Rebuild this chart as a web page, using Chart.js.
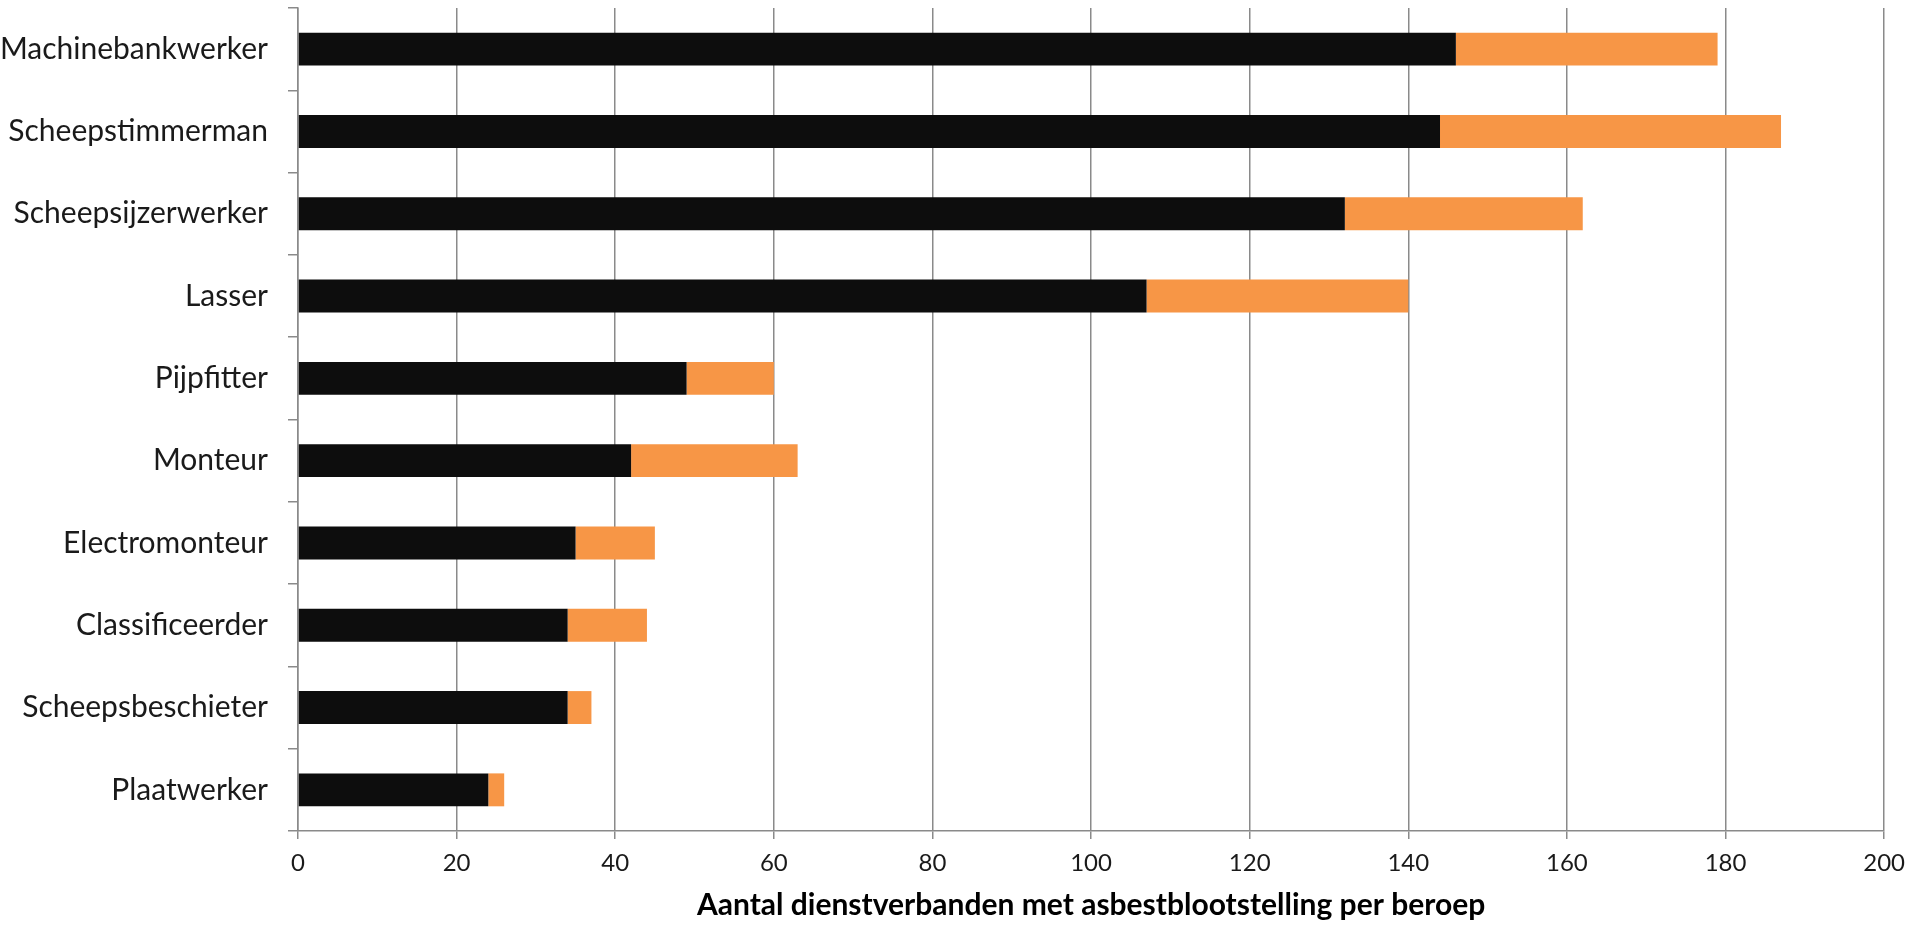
<!DOCTYPE html>
<html>
<head>
<meta charset="utf-8">
<script src="https://cdn.jsdelivr.net/npm/chart.js@4"></script>
<style>
  html, body { margin: 0; padding: 0; background: #fff; }
  #wrap { width: 1915px; height: 927px; }
</style>
</head>
<body>
<div id="wrap"><canvas id="asbestChart" width="1915" height="927"></canvas></div>
<script>
var beroepen = ['Machinebankwerker', 'Scheepstimmerman', 'Scheepsijzerwerker', 'Lasser', 'Pijpfitter',
    'Monteur', 'Electromonteur', 'Classificeerder', 'Scheepsbeschieter', 'Plaatwerker'];
var zwart = [146, 144, 132, 107, 49, 42, 35, 34, 34, 24];
var oranje = [33, 43, 30, 33, 11, 21, 10, 10, 3, 2];
var xMin = 0;
var xMax = 200;
var xStap = 20;
var asTitel = 'Aantal dienstverbanden met asbestblootstelling per beroep';

var labelFont = 'Lato, "Open Sans", sans-serif';
var gridKleur = '#8a8a8a';

var ctx = document.getElementById('asbestChart').getContext('2d');
var asbestChart = new Chart(ctx, {
    type: 'bar',
    data: {
        labels: beroepen,
        datasets: [{
            label: 'zwart',
            data: zwart,
            backgroundColor: '#0d0d0d',
            borderWidth: 0,
            barPercentage: 0.4,
            categoryPercentage: 1
        }, {
            label: 'oranje',
            data: oranje,
            backgroundColor: '#f79646',
            borderWidth: 0,
            barPercentage: 0.4,
            categoryPercentage: 1
        }]
    },
    options: {
        indexAxis: 'y',
        responsive: false,
        animation: false,
        layout: { padding: { top: 8, right: 28, left: 0, bottom: 0 } },
        plugins: {
            legend: { display: false },
            tooltip: { enabled: false }
        },
        scales: {
            x: {
                stacked: true,
                min: xMin,
                max: xMax,
                ticks: {
                    stepSize: xStap,
                    color: '#1a1a1a',
                    font: { family: labelFont, size: 24 },
                    padding: 10
                },
                grid: {
                    color: gridKleur,
                    lineWidth: 1.5,
                    tickLength: 8
                },
                border: { color: gridKleur, width: 1.5 },
                title: {
                    display: true,
                    text: asTitel,
                    color: '#000',
                    font: { family: labelFont, size: 30, weight: 'bold' },
                    padding: { top: 8 }
                },
                afterFit: function(scale) {
                    scale.height = 96;
                    scale.paddingLeft = 0;
                }
            },
            y: {
                stacked: true,
                ticks: {
                    color: '#1a1a1a',
                    font: { family: labelFont, size: 30 },
                    padding: 20
                },
                grid: {
                    offset: true,
                    drawOnChartArea: false,
                    color: gridKleur,
                    lineWidth: 1.5,
                    tickLength: 10
                },
                border: { color: gridKleur, width: 1.5 },
                afterFit: function(scale) {
                    scale.width = 298;
                    scale.paddingTop = 0;
                    scale.paddingBottom = 0;
                }
            }
        }
    }
});
</script>
</body>
</html>
